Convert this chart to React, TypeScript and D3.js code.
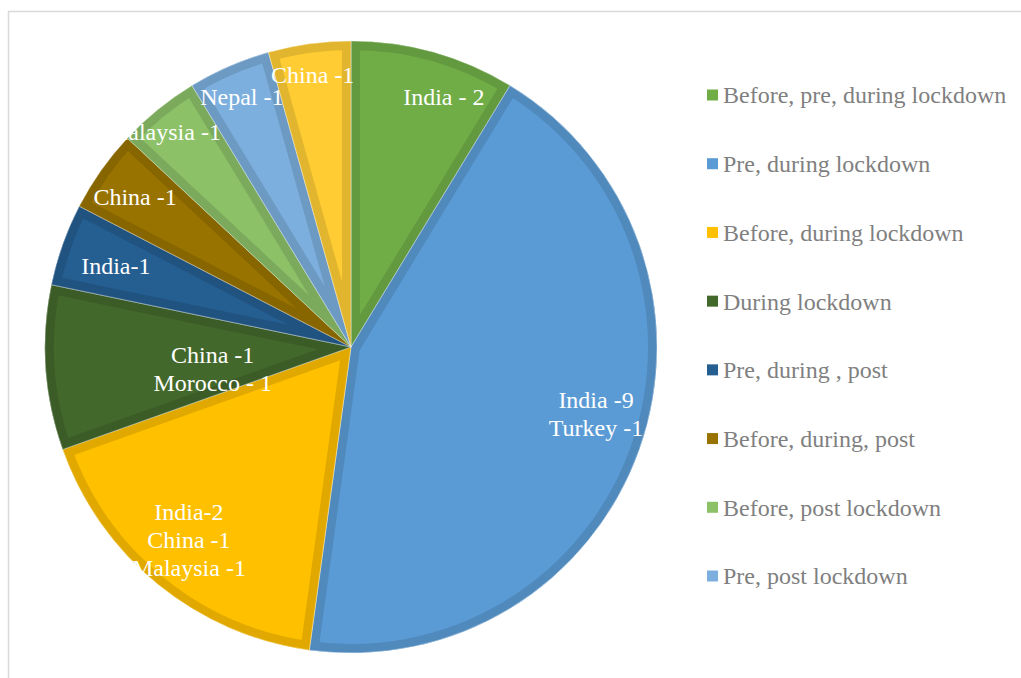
import React, { useEffect, useRef } from "react";
import * as d3 from "d3";

const categories = [
  "Before, pre, during lockdown",
  "Pre, during lockdown",
  "Before, during lockdown",
  "During lockdown",
  "Pre, during , post",
  "Before, during, post",
  "Before, post lockdown",
  "Pre, post lockdown",
  "Before, pre lockdown",
];
const values = [2, 10, 4, 2, 1, 1, 1, 1, 1];
const sliceLabels = [
  ["India - 2"],
  ["India -9", "Turkey -1"],
  ["India-2", "China -1", "Malaysia -1"],
  ["China -1", "Morocco - 1"],
  ["India-1"],
  ["China -1"],
  ["Malaysia -1"],
  ["Nepal -1"],
  ["China -1"],
];
const colors = [
  "#70AD47",
  "#5B9BD5",
  "#FFC000",
  "#43682B",
  "#255E91",
  "#997300",
  "#8CC168",
  "#7CAFDD",
  "#FFCD33",
];
const legendCount = 8;

// layout constants for label placement (radius from centre, angular shift in degrees)
const labelRadius = [267, 254, 252, 140, 249, 263, 285, 273, 275];
const labelShift = [4.7, -4.3, 0.9, -5, -0.4, -0.4, -1.9, -0.1, -0.2];

export default function App() {
  const ref = useRef<SVGSVGElement | null>(null);

  useEffect(() => {
    const svg = d3.select(ref.current);
    svg.selectAll("*").remove();

    const W = 1021, H = 678;
    const cx = 351, cy = 347, R = 306;

    svg
      .append("rect")
      .attr("x", 8.5)
      .attr("y", 11.5)
      .attr("width", W + 20)
      .attr("height", H + 20)
      .attr("fill", "#fff")
      .attr("stroke", "#d9d9d9")
      .attr("stroke-width", 1.5);

    const pie = d3.pie<number>().sort(null).value((d) => d);
    const arcs = pie(values);
    const arc = d3.arc<d3.PieArcDatum<number>>().innerRadius(0).outerRadius(R);

    const g = svg.append("g").attr("transform", `translate(${cx},${cy})`);
    const defs = svg.append("defs");

    arcs.forEach((a, i) => {
      defs
        .append("clipPath")
        .attr("id", `clip${i}`)
        .append("path")
        .attr("d", arc(a) as string);
    });

    const slice = g.selectAll("g.slice").data(arcs).enter().append("g").attr("class", "slice");
    slice
      .append("path")
      .attr("d", (d) => arc(d) as string)
      .attr("fill", (_, i) => colors[i]);
    slice
      .append("path")
      .attr("d", (d) => arc(d) as string)
      .attr("fill", "none")
      .attr("clip-path", (_, i) => `url(#clip${i})`)
      .attr("stroke", (_, i) => (d3.color(colors[i]) as d3.RGBColor).darker(0.35).formatHex())
      .attr("stroke-width", 18)
      .attr("stroke-linejoin", "round");
    slice
      .append("path")
      .attr("d", (d) => arc(d) as string)
      .attr("fill", "none")
      .attr("stroke", "#fff")
      .attr("stroke-opacity", 0.5)
      .attr("stroke-width", 0.8);

    // labels
    arcs.forEach((a, i) => {
      const mid = (a.startAngle + a.endAngle) / 2 + (labelShift[i] * Math.PI) / 180;
      const x = labelRadius[i] * Math.sin(mid);
      const y = -labelRadius[i] * Math.cos(mid);
      const lines = sliceLabels[i];
      const t = g
        .append("text")
        .attr("x", x)
        .attr("y", y)
        .attr("text-anchor", "middle")
        .attr("font-family", "'Liberation Serif', 'Times New Roman', serif")
        .attr("font-size", 24)
        .attr("fill", "#fff");
      lines.forEach((ln, j) => {
        t.append("tspan")
          .attr("x", x)
          .attr("y", y + (j - (lines.length - 1) / 2) * 28)
          .attr("dy", "0.35em")
          .text(ln);
      });
    });

    // legend
    const ly = d3.scalePoint<number>().domain(d3.range(legendCount)).range([95, 576]);
    const leg = svg
      .selectAll("g.leg")
      .data(categories.slice(0, legendCount))
      .enter()
      .append("g")
      .attr("class", "leg")
      .attr("transform", (_, i) => `translate(707,${ly(i)})`);
    leg
      .append("rect")
      .attr("x", 0)
      .attr("y", -5.5)
      .attr("width", 11)
      .attr("height", 11)
      .attr("fill", (_, i) => colors[i]);
    leg
      .append("text")
      .attr("x", 16)
      .attr("y", 0)
      .attr("dy", "0.35em")
      .attr("font-family", "'Liberation Serif', 'Times New Roman', serif")
      .attr("font-size", 24)
      .attr("fill", "#7f7f7f")
      .text((d) => d);
  }, []);

  return (
    <svg
      ref={ref}
      width={1021}
      height={678}
      style={{ position: "absolute", left: 0, top: 0 }}
    />
  );
}
